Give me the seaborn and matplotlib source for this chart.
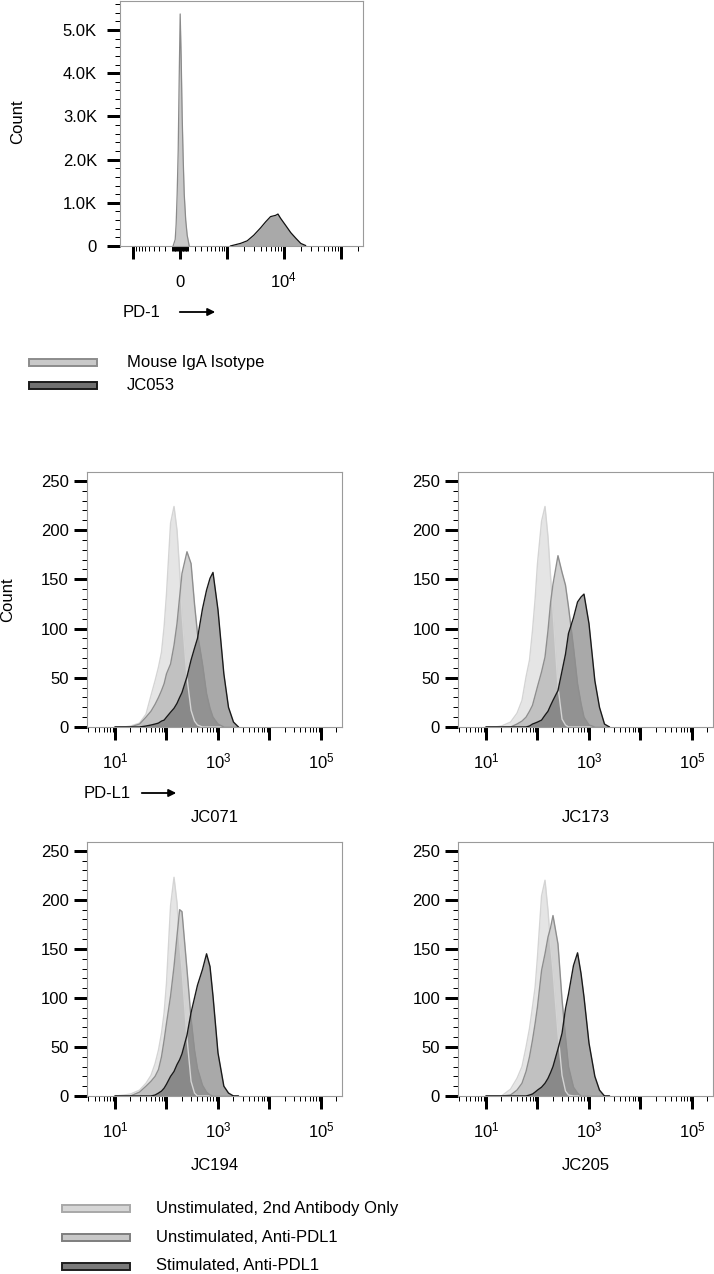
import numpy as np
import pandas as pd
import matplotlib
matplotlib.use("Agg")
import matplotlib.pyplot as plt
import seaborn as sns
from matplotlib.patches import Rectangle, FancyArrowPatch
from matplotlib.ticker import FixedLocator, FixedFormatter, NullFormatter

# ---------------- data ----------------
# Top panel (PD-1), fluorescence intensity vs. count
PD1_ISO_X = [-90, -63, -51, -38, -25, -13, 0, 13, 25, 38, 51, 70, 89, 116]
PD1_ISO_Y = [0, 150, 500, 1200, 2200, 3800, 5370, 4300, 3000, 2000, 1200, 600, 250, 0]
PD1_JC053_X = [1150, 1750, 2300, 3000, 3950, 4850, 5900, 7250, 7950, 8850,
               10800, 13300, 16300, 19900, 24300]
PD1_JC053_Y = [0, 60, 120, 250, 420, 560, 680, 710, 740, 640, 480, 310, 180, 60, 10]
PD1_LABELS = ["Mouse IgA Isotype", "JC053"]

# Lower panels (PD-L1), shared intensity bins
PDL1_BINS = [10, 15, 20, 30, 40, 50, 60, 70, 80, 90, 100, 120, 140, 160, 180, 200,
             250, 300, 350, 400, 500, 600, 700, 800, 1000, 1300, 1600, 2000, 2500]
CONDITIONS = ["Unstimulated, 2nd Antibody Only", "Unstimulated, Anti-PDL1",
              "Stimulated, Anti-PDL1"]
CLONES = ["JC071", "JC173", "JC194", "JC205"]

JC071_UNSTIM_2ND = [0, 0, 1, 4, 13, 32, 47, 61, 76, 102, 135, 207, 224, 200, 159, 115,
                    50, 17, 6, 2, 0, 0, 0, 0, 0, 0, 0, 0, 0]
JC071_UNSTIM_PDL1 = [0, 0, 0, 3, 10, 16, 23, 30, 37, 44, 54, 64, 83, 105, 132, 156,
                     178, 166, 125, 95, 64, 34, 19, 10, 3, 0, 0, 0, 0]
JC071_STIM_PDL1 = [0, 0, 0, 0, 1, 2, 3, 4, 6, 7, 10, 15, 19, 24, 30, 35,
                   51, 68, 80, 90, 120, 139, 151, 157, 119, 54, 20, 5, 0]

JC173_UNSTIM_2ND = [0, 0, 1, 5, 14, 27, 51, 68, 98, 130, 166, 209, 224, 193, 152, 118,
                    41, 8, 2, 0, 0, 0, 0, 0, 0, 0, 0, 0, 0]
JC173_UNSTIM_PDL1 = [0, 0, 0, 0, 3, 6, 10, 16, 22, 32, 41, 56, 71, 98, 127, 145,
                     174, 157, 144, 122, 81, 44, 24, 10, 2, 0, 0, 0, 0]
JC173_STIM_PDL1 = [0, 0, 0, 0, 0, 0, 0, 1, 3, 4, 5, 7, 12, 16, 22, 27,
                   37, 57, 74, 95, 111, 127, 132, 135, 105, 47, 20, 3, 0]

JC194_UNSTIM_2ND = [0, 1, 2, 6, 13, 21, 33, 47, 64, 85, 115, 194, 223, 197, 156, 129,
                    59, 15, 3, 0, 0, 0, 0, 0, 0, 0, 0, 0, 0]
JC194_UNSTIM_PDL1 = [0, 0, 0, 4, 10, 15, 20, 27, 40, 57, 74, 102, 132, 163, 190, 188,
                     129, 79, 47, 28, 11, 4, 1, 0, 0, 0, 0, 0, 0]
JC194_STIM_PDL1 = [0, 0, 0, 0, 0, 0, 1, 3, 5, 8, 12, 20, 25, 32, 37, 43,
                   62, 85, 100, 113, 129, 145, 132, 102, 44, 10, 3, 0, 0]

JC205_UNSTIM_2ND = [0, 0, 0, 7, 18, 30, 50, 69, 91, 111, 142, 204, 220, 189, 153, 128,
                    64, 21, 5, 1, 0, 0, 0, 0, 0, 0, 0, 0, 0]
JC205_UNSTIM_PDL1 = [0, 0, 0, 1, 6, 13, 25, 40, 57, 74, 91, 128, 145, 162, 172, 184,
                     155, 98, 60, 30, 9, 3, 0, 0, 0, 0, 0, 0, 0]
JC205_STIM_PDL1 = [0, 0, 0, 0, 0, 0, 0, 1, 2, 4, 6, 9, 13, 18, 24, 30,
                   48, 64, 89, 104, 133, 146, 125, 101, 54, 20, 6, 0, 0]

PANEL_DATA = {
    "JC071": [JC071_UNSTIM_2ND, JC071_UNSTIM_PDL1, JC071_STIM_PDL1],
    "JC173": [JC173_UNSTIM_2ND, JC173_UNSTIM_PDL1, JC173_STIM_PDL1],
    "JC194": [JC194_UNSTIM_2ND, JC194_UNSTIM_PDL1, JC194_STIM_PDL1],
    "JC205": [JC205_UNSTIM_2ND, JC205_UNSTIM_PDL1, JC205_STIM_PDL1],
}

# ---------------- style ----------------
sns.set_theme(style="white")
plt.rcParams["font.family"] = ["Liberation Sans", "DejaVu Sans"]
plt.rcParams["mathtext.fontset"] = "custom"
plt.rcParams["mathtext.rm"] = "Liberation Sans"
plt.rcParams["mathtext.it"] = "Liberation Sans:italic"
plt.rcParams["mathtext.bf"] = "Liberation Sans:bold"
plt.rcParams["text.color"] = "black"
FS = 12
PT = 0.72  # points per pixel at 100 dpi

W, H = 714, 1274
fig = plt.figure(figsize=(W / 100, H / 100), dpi=100)


def px_box(x0, y0, x1, y1):
    return [x0 / W, 1 - y1 / H, (x1 - x0) / W, (y1 - y0) / H]


def px(x, y):
    return (x / W, 1 - y / H)


def style_axes(ax, ypad_px):
    for s in ax.spines.values():
        s.set_color("#9a9a9a")
        s.set_linewidth(0.8)
    ax.tick_params(axis="both", which="both", bottom=True, left=True, top=False, right=False,
                   direction="out", color="black")
    ax.tick_params(axis="both", which="major", length=13 * PT, width=3 * PT,
                   labelsize=FS, labelcolor="black")
    ax.tick_params(axis="both", which="minor", length=5 * PT, width=1.0 * PT)
    ax.tick_params(axis="x", which="major", pad=28 * PT)
    ax.tick_params(axis="y", which="major", pad=ypad_px * PT)
    for lab in ax.get_xticklabels():
        lab.set_verticalalignment("baseline")
    ax.set_xlabel("")
    ax.set_ylabel("")


# ---------------- top panel ----------------
C = 312.0
ax0 = fig.add_axes(px_box(120, 1, 363, 246))
ax0.set_xscale("function", functions=(lambda v: np.arcsinh(np.asarray(v) / C),
                                      lambda u: C * np.sinh(np.asarray(u))))
top_df = pd.concat([
    pd.DataFrame({"x": PD1_ISO_X, "count": PD1_ISO_Y, "sample": PD1_LABELS[0]}),
    pd.DataFrame({"x": PD1_JC053_X, "count": PD1_JC053_Y, "sample": PD1_LABELS[1]}),
])
top_fill = {PD1_LABELS[0]: "#c9c9c9", PD1_LABELS[1]: "#a9a9a9"}
top_edge = {PD1_LABELS[0]: "#8a8a8a", PD1_LABELS[1]: "#111111"}
for name, sub in top_df.groupby("sample", sort=False):
    ax0.fill_between(sub["x"], 0, sub["count"], color=top_fill[name], lw=0, zorder=2)
sns.lineplot(data=top_df, x="x", y="count", hue="sample", palette=top_edge,
             estimator=None, sort=False, legend=False, lw=0.9, ax=ax0, zorder=3)
ax0.set_xlim(-1740, 2.43e5)
ax0.set_ylim(0, 5670)
ax0.xaxis.set_major_locator(FixedLocator([-1000, 0, 1000, 10000, 100000]))
ax0.xaxis.set_major_formatter(FixedFormatter(["", "0", "", "$10^{4}$", ""]))
top_minor = ([-v for v in range(100, 1000, 100)] + [-v for v in range(10, 100, 10)] +
             list(range(10, 100, 10)) + list(range(100, 1000, 100)) +
             list(range(2000, 10000, 1000)) + list(range(20000, 100000, 10000)) + [200000])
ax0.xaxis.set_minor_locator(FixedLocator(top_minor))
ax0.xaxis.set_minor_formatter(NullFormatter())
ax0.yaxis.set_major_locator(FixedLocator([0, 1000, 2000, 3000, 4000, 5000]))
ax0.yaxis.set_major_formatter(FixedFormatter(["0", "1.0K", "2.0K", "3.0K", "4.0K", "5.0K"]))
ax0.yaxis.set_minor_locator(FixedLocator(list(range(0, 5700, 200))))
style_axes(ax0, 10)
fig.text(*px(18, 122), "Count", rotation=90, ha="center", va="center", fontsize=FS)
fig.text(*px(123, 312), "PD-1", ha="left", va="center", fontsize=FS)
fig.add_artist(FancyArrowPatch(px(177, 312), px(218, 312), transform=fig.transFigure,
                               arrowstyle="-|>", mutation_scale=11, color="black", lw=1.3))

# top legend
for i, name in enumerate(PD1_LABELS):
    yc = 362 + 23 * i
    fc = ["#c9c9c9", "#707070"][i]
    ec = ["#8c8c8c", "#1a1a1a"][i]
    fig.add_artist(Rectangle(px(29, yc + 3.5), 68 / W, 7 / H, transform=fig.transFigure,
                             facecolor=fc, edgecolor=ec, lw=1.4))
    fig.text(*px(127, yc), name, ha="left", va="center", fontsize=FS)

# ---------------- PD-L1 panels ----------------
boxes = {
    "JC071": (87, 472, 342, 727),
    "JC173": (458, 472, 713, 727),
    "JC194": (87, 842, 342, 1096),
    "JC205": (458, 842, 713, 1096),
}
title_y = {"JC071": 818, "JC173": 818, "JC194": 1165, "JC205": 1165}
fills = ["#999999", "#808080", "#4d4d4d"]
alphas = [0.25, 0.35, 0.48]
edges = ["#d4d4d4", "#8e8e8e", "#1a1a1a"]
edge_pal = dict(zip(CONDITIONS, edges))

minor_log = ([3, 4, 5, 6, 7, 8, 9] + [20, 30, 40, 50, 60, 70, 80, 90] +
             [200, 300, 400, 500, 600, 700, 800, 900] +
             [2000, 3000, 4000, 5000, 6000, 7000, 8000, 9000] +
             [20000, 30000, 40000, 50000, 60000, 70000, 80000, 90000] + [200000])

for clone in CLONES:
    x0, y0, x1, y1 = boxes[clone]
    ax = fig.add_axes(px_box(x0, y0, x1, y1))
    ax.set_xscale("log")
    df = pd.concat([pd.DataFrame({"intensity": PDL1_BINS, "count": vals, "condition": cond})
                    for cond, vals in zip(CONDITIONS, PANEL_DATA[clone])])
    for (cond, sub), fc, a in zip(df.groupby("condition", sort=False), fills, alphas):
        ax.fill_between(sub["intensity"], 0, sub["count"], color=fc, alpha=a, lw=0, zorder=2)
    sns.lineplot(data=df, x="intensity", y="count", hue="condition", palette=edge_pal,
                 estimator=None, legend=False, lw=1.0, ax=ax, zorder=3)
    ax.set_xlim(2.86, 2.56e5)
    ax.set_ylim(0, 259)
    ax.xaxis.set_major_locator(FixedLocator([10, 100, 1000, 10000, 100000]))
    ax.xaxis.set_major_formatter(FixedFormatter(["$10^{1}$", "", "$10^{3}$", "", "$10^{5}$"]))
    ax.xaxis.set_minor_locator(FixedLocator(minor_log))
    ax.xaxis.set_minor_formatter(NullFormatter())
    ax.yaxis.set_major_locator(FixedLocator([0, 50, 100, 150, 200, 250]))
    ax.yaxis.set_major_formatter(FixedFormatter(["0", "50", "100", "150", "200", "250"]))
    ax.yaxis.set_minor_locator(FixedLocator(list(range(0, 260, 10))))
    style_axes(ax, 5)
    fig.text(*px((x0 + x1) / 2, title_y[clone]), clone, ha="center", va="center", fontsize=FS)

fig.text(*px(8, 600), "Count", rotation=90, ha="center", va="center", fontsize=FS)
fig.text(*px(84, 793), "PD-L1", ha="left", va="center", fontsize=FS)
fig.add_artist(FancyArrowPatch(px(139, 793), px(179, 793), transform=fig.transFigure,
                               arrowstyle="-|>", mutation_scale=11, color="black", lw=1.3))

# bottom legend
leg_fc = ["#d6d6d6", "#c8c8c8", "#7a7a7a"]
leg_ec = ["#a8a8a8", "#7e7e7e", "#1e1e1e"]
for i, cond in enumerate(CONDITIONS):
    yc = 1208 + 29 * i
    fig.add_artist(Rectangle(px(62, yc + 3.5), 68 / W, 7 / H, transform=fig.transFigure,
                             facecolor=leg_fc[i], edgecolor=leg_ec[i], lw=1.4))
    fig.text(*px(156, yc), cond, ha="left", va="center", fontsize=FS)

fig.savefig("out.png", dpi=100)
